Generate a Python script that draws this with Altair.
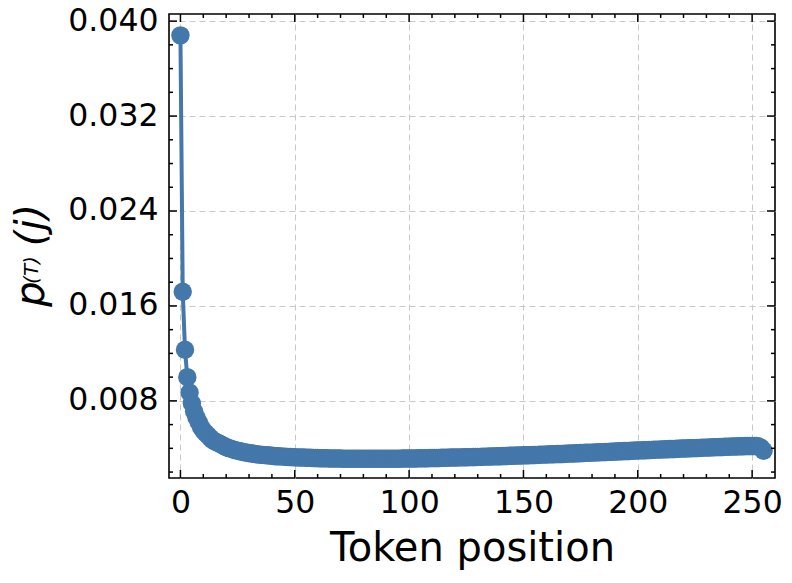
import altair as alt
import pandas as pd

positions = list(range(256))
probs = [
    0.0388, 0.0172, 0.0123, 0.0100, 0.0087,
    0.0078, 0.0071, 0.0066, 0.0062, 0.0058,
    0.0055, 0.0053, 0.0051, 0.0049, 0.0047,
    0.0046, 0.0045, 0.0044, 0.0043, 0.0042,
    0.00412, 0.00404, 0.00397, 0.00391, 0.00385,
    0.00380, 0.00375, 0.00371, 0.00367, 0.00363,
    0.00360, 0.00357, 0.00354, 0.00351, 0.00349,
    0.00347, 0.00345, 0.00343, 0.00341, 0.00339,
    0.00337, 0.00336, 0.00334, 0.00333, 0.00332,
    0.00330, 0.00329, 0.00328, 0.00327, 0.00326,
    0.00325,
    0.00324, 0.00323, 0.00322, 0.00322, 0.00321, 0.00320, 0.00320, 0.00319, 0.00318, 0.00318,
    0.00317, 0.00317, 0.00316, 0.00316, 0.00315, 0.00315, 0.00315, 0.00314, 0.00314, 0.00314,
    0.00313, 0.00313, 0.00313, 0.00313, 0.00312, 0.00312, 0.00312, 0.00312, 0.00312, 0.00312,
    0.00312, 0.00312, 0.00312, 0.00312, 0.00312, 0.00312, 0.00312, 0.00312, 0.00312, 0.00312,
    0.00312, 0.00313, 0.00313, 0.00313, 0.00313, 0.00313, 0.00314, 0.00314, 0.00314, 0.00314,
    0.00315, 0.00315, 0.00315, 0.00316, 0.00316, 0.00316, 0.00317, 0.00317, 0.00318, 0.00318,
    0.00318, 0.00319, 0.00319, 0.00320, 0.00320, 0.00321, 0.00321, 0.00322, 0.00322, 0.00323,
    0.00323, 0.00324, 0.00324, 0.00325, 0.00325, 0.00326, 0.00326, 0.00327, 0.00327, 0.00328,
    0.00328, 0.00329, 0.00330, 0.00330, 0.00331, 0.00331, 0.00332, 0.00333, 0.00333, 0.00334,
    0.00335, 0.00335, 0.00336, 0.00337, 0.00337, 0.00338, 0.00339, 0.00339, 0.00340, 0.00341,
    0.00342, 0.00342, 0.00343, 0.00344, 0.00344, 0.00345, 0.00346, 0.00347, 0.00347, 0.00348,
    0.00349, 0.00350, 0.00350, 0.00351, 0.00352, 0.00353, 0.00353, 0.00354, 0.00355, 0.00356,
    0.00357, 0.00357, 0.00358, 0.00359, 0.00360, 0.00361, 0.00362, 0.00362, 0.00363, 0.00364,
    0.00365, 0.00366, 0.00367, 0.00368, 0.00368, 0.00369, 0.00370, 0.00371, 0.00372, 0.00373,
    0.00374, 0.00375, 0.00376, 0.00377, 0.00377, 0.00378, 0.00379, 0.00380, 0.00381, 0.00382,
    0.00383, 0.00384, 0.00384, 0.00385, 0.00386, 0.00387, 0.00388, 0.00389, 0.00389, 0.00390,
    0.00391, 0.00392, 0.00393, 0.00394, 0.00394, 0.00395, 0.00396, 0.00397, 0.00398, 0.00398,
    0.00399, 0.00400, 0.00401, 0.00402, 0.00402, 0.00403, 0.00404, 0.00405, 0.00406, 0.00406,
    0.00407, 0.00408, 0.00409, 0.00410, 0.00410, 0.00411, 0.00412, 0.00413, 0.00413, 0.00414,
    0.00415, 0.00416, 0.00416, 0.00417, 0.00418, 0.00418, 0.00419, 0.00419, 0.00420, 0.00420,
    0.00420, 0.00419, 0.00414, 0.00403, 0.00380,
]

x_major = [0, 50, 100, 150, 200, 250]
x_minor = [10, 20, 30, 40, 60, 70, 80, 90, 110, 120, 130, 140, 160, 170, 180, 190,
           210, 220, 230, 240]
y_major = [0.008, 0.016, 0.024, 0.032, 0.040]
y_minor = [0.002, 0.004, 0.006, 0.010, 0.012, 0.014, 0.018, 0.020, 0.022, 0.026,
           0.028, 0.030, 0.034, 0.036, 0.038]

# y-axis title pieces: p^{(T)}(j)
title_main = "p"
title_sup = "(T)"
title_tail = "(j)"

X_DOMAIN = [-5, 260]
Y_DOMAIN = [0.0015, 0.0406]
W, H = 606, 464
COLOR = "#4477aa"
FONT = "DejaVu Sans"

df = pd.DataFrame({"pos": positions, "p": probs})
xs = alt.Scale(domain=X_DOMAIN, nice=False, zero=False)
ys = alt.Scale(domain=Y_DOMAIN, nice=False, zero=False)

x_axis = alt.Axis(values=x_major, ticks=False, domain=False, grid=True,
                  gridDash=[6, 4], gridColor="#c8c8c8", gridWidth=1,
                  labelFont=FONT, labelFontSize=31.5, labelColor="black",
                  labelPadding=9, title="Token position", titleFont=FONT,
                  titleFontSize=40, titleFontWeight="normal", titleColor="black",
                  titlePadding=10)
y_axis = alt.Axis(values=y_major, format=".3f", ticks=False, domain=False, grid=True,
                  gridDash=[6, 4], gridColor="#c8c8c8", gridWidth=1,
                  labelFont=FONT, labelFontSize=31.5, labelColor="black",
                  labelPadding=11, title=None)

line = alt.Chart(df).mark_line(color=COLOR, strokeWidth=4, clip=True).encode(
    x=alt.X("pos:Q", scale=xs, axis=x_axis),
    y=alt.Y("p:Q", scale=ys, axis=y_axis),
)
pts = alt.Chart(df).mark_circle(color=COLOR, size=340, opacity=1, clip=True).encode(
    x=alt.X("pos:Q", scale=xs),
    y=alt.Y("p:Q", scale=ys),
)


def xticks(vals, length):
    d = pd.DataFrame({"pos": vals})
    bottom = alt.Chart(d).mark_rule(color="black", strokeWidth=1.5).encode(
        x=alt.X("pos:Q", scale=xs), y=alt.value(H), y2=alt.value(H - length))
    top = alt.Chart(d).mark_rule(color="black", strokeWidth=1.5).encode(
        x=alt.X("pos:Q", scale=xs), y=alt.value(0), y2=alt.value(length))
    return [bottom, top]


def yticks(vals, length):
    d = pd.DataFrame({"p": vals})
    left = alt.Chart(d).mark_rule(color="black", strokeWidth=1.5).encode(
        y=alt.Y("p:Q", scale=ys), x=alt.value(0), x2=alt.value(length))
    right = alt.Chart(d).mark_rule(color="black", strokeWidth=1.5).encode(
        y=alt.Y("p:Q", scale=ys), x=alt.value(W), x2=alt.value(W - length))
    return [left, right]


def title_piece(txt, size, xpos, ypos):
    d = pd.DataFrame({"t": [txt]})
    return alt.Chart(d).mark_text(
        font=FONT, fontSize=size, fontStyle="italic", color="black",
        angle=270, align="center", baseline="alphabetic",
    ).encode(text="t:N", x=alt.value(xpos), y=alt.value(ypos))


ytitle = [
    title_piece(title_main, 40, -125, 280),
    title_piece(title_sup, 20, -131, 256),
    title_piece(title_tail, 40, -125, 211),
]

layers = ([line, pts] + xticks(x_major, 8) + xticks(x_minor, 4)
          + yticks(y_major, 8) + yticks(y_minor, 4) + ytitle)

chart = alt.layer(*layers).properties(
    width=W, height=H, autosize="none",
    padding={"left": 161, "top": 6, "right": 8, "bottom": 95},
    background="white",
).configure_view(stroke="black", strokeWidth=1.6)

chart.save("out.html", embed_options={"renderer": "svg", "actions": False})
